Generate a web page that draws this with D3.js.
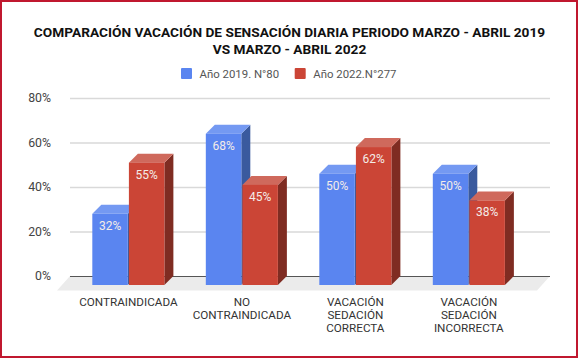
<!DOCTYPE html>
<html>
<head>
<meta charset="utf-8">
<script src="https://cdn.jsdelivr.net/npm/d3@7"></script>
<style>
  html, body { margin: 0; padding: 0; background: #fff; }
  svg { display: block; font-family: Roboto, sans-serif; }
</style>
</head>
<body>
<div id="graph-container"></div>
<script>
// Chart data
const categories = ["CONTRAINDICADA", "NO CONTRAINDICADA", "VACACIÓN SEDACIÓN CORRECTA", "VACACIÓN SEDACIÓN INCORRECTA"];
const categoryLines = [["CONTRAINDICADA"], ["NO", "CONTRAINDICADA"], ["VACACIÓN", "SEDACIÓN", "CORRECTA"], ["VACACIÓN", "SEDACIÓN", "INCORRECTA"]];
const seriesNames = ["Año 2019. N°80", "Año 2022.N°277"];
const values2019 = [32, 68, 50, 50];
const values2022 = [55, 45, 62, 38];
const yTicks = [0, 20, 40, 60, 80];
const titleLines = ["COMPARACIÓN VACACIÓN DE SENSACIÓN DIARIA PERIODO MARZO - ABRIL 2019", "VS MARZO - ABRIL 2022"];

const width = 578;
const height = 358;
const depth = 9; // 3D offset of the bars

// Front, side and top colours per series
const fronts = ["#5a85f0", "#cb4536"];
const sides = ["#3a5a9e", "#7f2c22"];
const tops = ["#7499f2", "#cf695c"];

const svg = d3.select("#graph-container").append("svg").attr("width", width).attr("height", height);

// Outer border
svg.append("rect").attr("x", 1).attr("y", 1).attr("width", width - 2).attr("height", height - 2)
  .attr("fill", "#fff").attr("stroke", "#c0182f").attr("stroke-width", 2);

// Scales (yScale is the front plane of the bars)
const yScale = d3.scaleLinear().domain([0, 80]).range([285, 107]);
const xScale = d3.scaleBand().domain(categories).range([71.6, 525.6]).paddingInner(0.365).paddingOuter(0.1825);
const xSeries = d3.scaleBand().domain(d3.range(seriesNames.length)).range([0, xScale.bandwidth()]).paddingInner(0.03);

// Floor
const floorY0 = yScale(0) + 5.5;
svg.append("path")
  .attr("d", `M57,${floorY0}L70,${yScale(0) - depth}H550L537,${floorY0}Z`)
  .attr("fill", "#ebebeb");

// Axis with grid lines, on the back plane
const yAxis = svg.append("g")
  .attr("transform", `translate(70,${-depth})`)
  .call(d3.axisLeft(yScale).tickValues(yTicks).tickFormat((d) => d + "%").tickSize(0).tickPadding(19));
yAxis.select(".domain").remove();
yAxis.selectAll("text").attr("font-size", 12.3).attr("fill", "#444").attr("font-family", "Roboto, sans-serif");
yAxis.selectAll(".tick").append("line")
  .attr("x2", 480)
  .attr("stroke", (d) => (d === 0 ? "#555" : "#d9d9d9"))
  .attr("stroke-width", (d) => (d === 0 ? 1 : 1.4));

// Bars
const bars = [];
categories.forEach((c, i) => {
  [values2019, values2022].forEach((vals, s) => bars.push({ c, s, v: vals[i] }));
});

const bar = svg.selectAll("g.bar").data(bars).enter().append("g").attr("class", "bar")
  .attr("transform", (d) => `translate(${xScale(d.c) + xSeries(d.s)},0)`);

bar.append("path")
  .attr("fill", (d) => sides[d.s])
  .attr("d", (d) => {
    const w = xSeries.bandwidth();
    return `M${w},${yScale(d.v)}l${depth},${-depth}V${yScale(0) - depth}L${w},${yScale(0)}Z`;
  });
bar.append("path")
  .attr("fill", (d) => tops[d.s])
  .attr("d", (d) => {
    const w = xSeries.bandwidth();
    return `M0,${yScale(d.v)}l${depth},${-depth}h${w}l${-depth},${depth}Z`;
  });
bar.append("rect")
  .attr("y", (d) => yScale(d.v))
  .attr("width", xSeries.bandwidth())
  .attr("height", (d) => yScale(0) - yScale(d.v))
  .attr("fill", (d) => fronts[d.s]);
bar.append("text")
  .attr("x", xSeries.bandwidth() / 2)
  .attr("y", (d) => yScale(d.v) + 16)
  .attr("text-anchor", "middle")
  .attr("font-size", 12)
  .attr("fill", "#f4ece8")
  .text((d) => d.v + "%");

// Category labels
const catLabel = svg.selectAll("text.cat").data(categories).enter().append("text").attr("class", "cat")
  .attr("text-anchor", "middle")
  .attr("font-size", 11.7)
  .attr("fill", "#333")
  .attr("transform", (d) => `translate(${xScale(d) + xScale.bandwidth() / 2},306)`);
catLabel.selectAll("tspan").data((d, i) => categoryLines[i]).enter().append("tspan")
  .attr("x", 0)
  .attr("y", (d, i) => i * 13)
  .text((d) => d);

// Title
svg.selectAll("text.title").data(titleLines).enter().append("text").attr("class", "title")
  .attr("x", 289.5)
  .attr("y", (d, i) => 37.3 + i * 16.4)
  .attr("text-anchor", "middle")
  .attr("font-size", 13.7)
  .attr("font-weight", "bold")
  .attr("fill", "#111")
  .text((d) => d);

// Legend
const legendX = [181, 294.7];
const legend = svg.selectAll("g.legend").data(seriesNames).enter().append("g").attr("class", "legend")
  .attr("transform", (d, i) => `translate(${legendX[i]},68)`);
legend.append("rect").attr("width", 11).attr("height", 11).attr("rx", 1).attr("fill", (d, i) => fronts[i]);
legend.append("text").attr("x", 18.5).attr("y", 9.5).attr("font-size", 11.4).attr("fill", "#555").text((d) => d);
</script>
</body>
</html>
